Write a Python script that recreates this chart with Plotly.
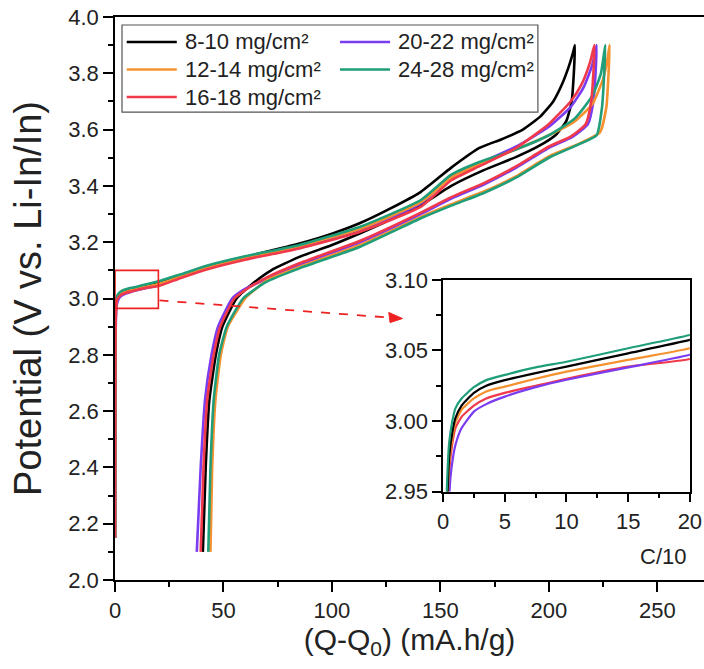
import plotly.graph_objects as go

# ---------------- data ----------------
LABELS = ["8-10 mg/cm²", "12-14 mg/cm²", "16-18 mg/cm²", "20-22 mg/cm²", "24-28 mg/cm²"]
COLORS = ["#000000", "#F5922F", "#F0394A", "#7A3CF0", "#1F9E79"]

# 8-10 mg/cm2
Q_CH_8_10 = [0, 0.05, 0.15, 0.3, 0.5, 0.75, 1, 1.5, 2.5, 3.5, 5, 7.5, 10, 15, 20, 30, 43, 60, 85, 100, 113, 127, 141, 155, 168, 178, 188, 196, 202, 206, 209, 211, 212]
V_CH_8_10 = [2.15, 2.5, 2.82, 2.93, 2.975, 2.992, 3.002, 3.011, 3.020, 3.025, 3.029, 3.034, 3.0386, 3.048, 3.0575, 3.082, 3.115, 3.148, 3.195, 3.23, 3.268, 3.32, 3.379, 3.465, 3.535, 3.565, 3.6, 3.646, 3.7, 3.76, 3.82, 3.87, 3.9]
Q_DC_8_10 = [211.5, 210.5, 208, 203, 195, 185, 170, 155, 141, 127, 113, 100, 85, 72, 63, 56, 49.5, 46.5, 43.5, 41.8, 40.5]
V_DC_8_10 = [3.8, 3.7, 3.63, 3.58, 3.54, 3.503, 3.456, 3.40, 3.332, 3.28, 3.232, 3.19, 3.148, 3.10, 3.05, 3.0, 2.9, 2.8, 2.64, 2.4, 2.1]

# 12-14 mg/cm2
Q_CH_12_14 = [0, 0.05, 0.15, 0.3, 0.5, 0.75, 1, 1.5, 2.5, 3.5, 5, 7.5, 10, 15, 20, 30, 43, 60, 85, 113, 141, 155, 168, 185, 200, 212, 220, 225, 227, 228]
V_CH_12_14 = [2.15, 2.48, 2.8, 2.92, 2.97, 2.988, 2.999, 3.008, 3.016, 3.021, 3.0244, 3.030, 3.035, 3.0433, 3.0516, 3.078, 3.11, 3.143, 3.186, 3.248, 3.342, 3.43, 3.478, 3.53, 3.58, 3.63, 3.69, 3.78, 3.85, 3.9]
Q_DC_12_14 = [227.5, 226.5, 223.5, 214, 200, 185, 170, 155, 141, 113, 85, 70, 65, 60, 52, 48.8, 46.3, 44.8, 44]
V_DC_12_14 = [3.8, 3.68, 3.59, 3.55, 3.505, 3.435, 3.38, 3.335, 3.29, 3.19, 3.112, 3.065, 3.035, 3.0, 2.9, 2.8, 2.64, 2.4, 2.1]

# 16-18 mg/cm2
Q_CH_16_18 = [0, 0.05, 0.15, 0.3, 0.5, 0.75, 1, 1.5, 2.5, 3.5, 5, 7.5, 10, 15, 20, 30, 43, 60, 85, 113, 141, 155, 168, 185, 200, 210, 215, 219, 221]
V_CH_16_18 = [2.15, 2.45, 2.78, 2.91, 2.965, 2.984, 2.995, 3.003, 3.011, 3.016, 3.020, 3.025, 3.030, 3.0386, 3.044, 3.072, 3.105, 3.138, 3.178, 3.237, 3.326, 3.42, 3.47, 3.535, 3.62, 3.7, 3.76, 3.84, 3.9]
Q_DC_16_18 = [220.5, 219.5, 217, 210, 200, 185, 170, 155, 141, 113, 85, 70, 60, 55, 48.5, 45.5, 42.5, 40.8, 39.5]
V_DC_16_18 = [3.8, 3.7, 3.62, 3.575, 3.54, 3.47, 3.41, 3.36, 3.305, 3.205, 3.125, 3.075, 3.03, 3.0, 2.9, 2.8, 2.64, 2.4, 2.1]

# 20-22 mg/cm2
Q_CH_20_22 = [0, 0.05, 0.15, 0.3, 0.45, 0.6, 0.8, 1, 1.5, 2.5, 3.5, 5, 7.5, 10, 15, 20, 30, 43, 60, 85, 113, 141, 155, 168, 185, 200, 210, 216, 220, 222]
V_CH_20_22 = [2.15, 2.4, 2.72, 2.88, 2.935, 2.96, 2.974, 2.983, 2.995, 3.0067, 3.012, 3.0173, 3.024, 3.0293, 3.038, 3.047, 3.075, 3.11, 3.142, 3.183, 3.243, 3.338, 3.435, 3.48, 3.54, 3.61, 3.68, 3.75, 3.83, 3.9]
Q_DC_20_22 = [221.5, 220.5, 218, 211, 200, 185, 170, 155, 141, 113, 85, 70, 59, 54, 47.5, 44.5, 41.5, 39.5, 37.7]
V_DC_20_22 = [3.8, 3.7, 3.62, 3.575, 3.535, 3.465, 3.405, 3.355, 3.30, 3.20, 3.12, 3.07, 3.03, 3.0, 2.9, 2.8, 2.64, 2.4, 2.1]

# 24-28 mg/cm2
Q_CH_24_28 = [0, 0.05, 0.15, 0.3, 0.5, 0.75, 1, 1.5, 2.5, 3.5, 5, 7.5, 10, 15, 20, 30, 43, 60, 85, 113, 141, 155, 168, 185, 200, 212, 220, 224, 226]
V_CH_24_28 = [2.15, 2.55, 2.85, 2.95, 2.985, 3.0, 3.009, 3.016, 3.024, 3.029, 3.0327, 3.038, 3.042, 3.0516, 3.061, 3.085, 3.118, 3.15, 3.19, 3.255, 3.35, 3.44, 3.485, 3.53, 3.58, 3.64, 3.72, 3.8, 3.9]
Q_DC_24_28 = [225.5, 224.5, 222, 213, 200, 185, 170, 155, 141, 113, 85, 70, 64, 59, 51.5, 48, 45.5, 44, 43]
V_DC_24_28 = [3.8, 3.68, 3.58, 3.545, 3.50, 3.43, 3.375, 3.33, 3.285, 3.184, 3.107, 3.06, 3.03, 3.0, 2.9, 2.8, 2.64, 2.4, 2.1]

SERIES = {
    "8-10 mg/cm²": (Q_CH_8_10, V_CH_8_10, Q_DC_8_10, V_DC_8_10),
    "12-14 mg/cm²": (Q_CH_12_14, V_CH_12_14, Q_DC_12_14, V_DC_12_14),
    "16-18 mg/cm²": (Q_CH_16_18, V_CH_16_18, Q_DC_16_18, V_DC_16_18),
    "20-22 mg/cm²": (Q_CH_20_22, V_CH_20_22, Q_DC_20_22, V_DC_20_22),
    "24-28 mg/cm²": (Q_CH_24_28, V_CH_24_28, Q_DC_24_28, V_DC_24_28),
}

ZOOM_Q = [0, 20]
ZOOM_V = [2.965, 3.10]
INSET_Q_RANGE = [0, 20]
INSET_V_RANGE = [2.95, 3.10]
MAIN_Q_TICKS = [0, 50, 100, 150, 200, 250]
MAIN_V_TICKS = [2.0, 2.2, 2.4, 2.6, 2.8, 3.0, 3.2, 3.4, 3.6, 3.8, 4.0]

# legend layout: two columns, column-major
LEGEND_COLUMNS = [["8-10 mg/cm²", "12-14 mg/cm²", "16-18 mg/cm²"], ["20-22 mg/cm²", "24-28 mg/cm²"]]

FONT = "Arial, 'Liberation Sans', Helvetica, sans-serif"
TXT = "#222"
RED = "#EE2222"

fig = go.Figure()
color_of = dict(zip(LABELS, COLORS))

draw_order = ["8-10 mg/cm²", "20-22 mg/cm²", "12-14 mg/cm²", "24-28 mg/cm²", "16-18 mg/cm²"]
for name in draw_order:
    qc, vc, qd, vd = SERIES[name]
    fig.add_trace(go.Scatter(
        x=list(qc) + list(qd), y=list(vc) + list(vd), mode="lines", name=name,
        line=dict(color=color_of[name], width=2.6, shape="spline", smoothing=0.5),
        legendgroup=name, showlegend=False, xaxis="x", yaxis="y", hoverinfo="skip"))

inset_order = ["16-18 mg/cm²", "20-22 mg/cm²", "12-14 mg/cm²", "8-10 mg/cm²", "24-28 mg/cm²"]
for name in inset_order:
    qc, vc, qd, vd = SERIES[name]
    fig.add_trace(go.Scatter(
        x=qc, y=vc, mode="lines", name=name, showlegend=False,
        line=dict(color=color_of[name], width=2.2, shape="spline", smoothing=0.5),
        legendgroup=name, xaxis="x2", yaxis="y2", hoverinfo="skip"))

axis_common = dict(showgrid=False, zeroline=False, showline=True, linecolor="#000",
                   linewidth=1.5, ticks="outside", tickcolor="#000", tickwidth=1.5,
                   automargin=False,
                   tickfont=dict(size=22, color=TXT, family=FONT))

fig.update_layout(
    width=704, height=669,
    margin=dict(l=115, r=0, t=17, b=89),
    paper_bgcolor="white", plot_bgcolor="white",
    font=dict(family=FONT, size=22, color=TXT),
    showlegend=False,
    xaxis=dict(**axis_common, domain=[0, 1], range=[0, 271.5],
               tickvals=MAIN_Q_TICKS, ticklen=10, mirror=True,
               minor=dict(dtick=25, tick0=0, ticks="outside", ticklen=5, tickwidth=1.5, tickcolor="#000"),
               title=dict(text="(Q-Q<sub>0</sub>) (mA.h/g)", font=dict(size=30, color=TXT, family=FONT), standoff=4)),
    yaxis=dict(**axis_common, domain=[0, 1], range=[2.0, 4.0],
               tickvals=MAIN_V_TICKS, tickformat=".1f", ticklen=10,
               minor=dict(dtick=0.1, tick0=2.0, ticks="outside", ticklen=5, tickwidth=1.5, tickcolor="#000"),
               title=dict(text="Potential (V vs. Li-In/In)", font=dict(size=38, color=TXT, family=FONT), standoff=15)),
    xaxis2=dict(**axis_common, domain=[0.557, 0.976], anchor="y2", range=INSET_Q_RANGE,
                dtick=5, tick0=0, ticklen=9, mirror=True,
                minor=dict(dtick=2.5, tick0=0, ticks="outside", ticklen=5, tickwidth=1.5, tickcolor="#000")),
    yaxis2=dict(**axis_common, domain=[0.157, 0.533], anchor="x2", range=INSET_V_RANGE,
                dtick=0.05, tick0=2.95, tickformat=".2f", ticklen=9, mirror=True,
                minor=dict(dtick=0.025, tick0=2.95, ticks="outside", ticklen=5, tickwidth=1.5, tickcolor="#000")),
)

# ---- legend (drawn as a boxed key) ----
LEG_BOX = dict(x0=0.0119, x1=0.718, y0=0.831, y1=0.9858)
COL_X = [0.0199, 0.382]      # line-sample start per column (paper)
SAMPLE_LEN = 0.085
TEXT_GAP = 0.0105
ROW_Y = [0.9556, 0.9068, 0.8579]
fig.add_shape(type="rect", xref="paper", yref="paper", **LEG_BOX,
              line=dict(color="#555", width=1.2), fillcolor="white", layer="above")
for ci, col in enumerate(LEGEND_COLUMNS):
    for ri, name in enumerate(col):
        x0 = COL_X[ci]
        fig.add_shape(type="line", xref="paper", yref="paper", x0=x0, x1=x0 + SAMPLE_LEN,
                      y0=ROW_Y[ri], y1=ROW_Y[ri], line=dict(color=color_of[name], width=2.6), layer="above")
        fig.add_annotation(x=x0 + SAMPLE_LEN + TEXT_GAP, y=ROW_Y[ri], xref="paper", yref="paper",
                           xanchor="left", yanchor="middle", text=name, showarrow=False,
                           font=dict(size=22, color=TXT, family=FONT))

# red zoom rectangle
fig.add_shape(type="rect", xref="x", yref="y", x0=ZOOM_Q[0], x1=ZOOM_Q[1], y0=ZOOM_V[0], y1=ZOOM_V[1],
              line=dict(color=RED, width=1.6), layer="above")
# dashed arrow pointing at the inset
fig.add_shape(type="line", xref="x", yref="y", x0=20.5, y0=2.993, x1=127, y1=2.932,
              line=dict(color=RED, width=1.8, dash="dash"), layer="above")
fig.add_shape(type="path", xref="x", yref="y",
              path="M 132.5,2.9288 L 126.2,2.9505 L 126.8,2.9145 Z",
              fillcolor=RED, line=dict(color=RED, width=1), layer="above")

# C/10 label
fig.add_annotation(x=0.972, y=0.041, xref="paper", yref="paper", xanchor="right", yanchor="middle",
                   text="C/10", showarrow=False, font=dict(size=22, color=TXT, family=FONT))

# remove the default page margin so the 704x669 figure fills the window exactly
fig.write_html("out.html", config={"displayModeBar": False},
               post_script="document.body.style.margin='0px';document.body.style.padding='0px';")
